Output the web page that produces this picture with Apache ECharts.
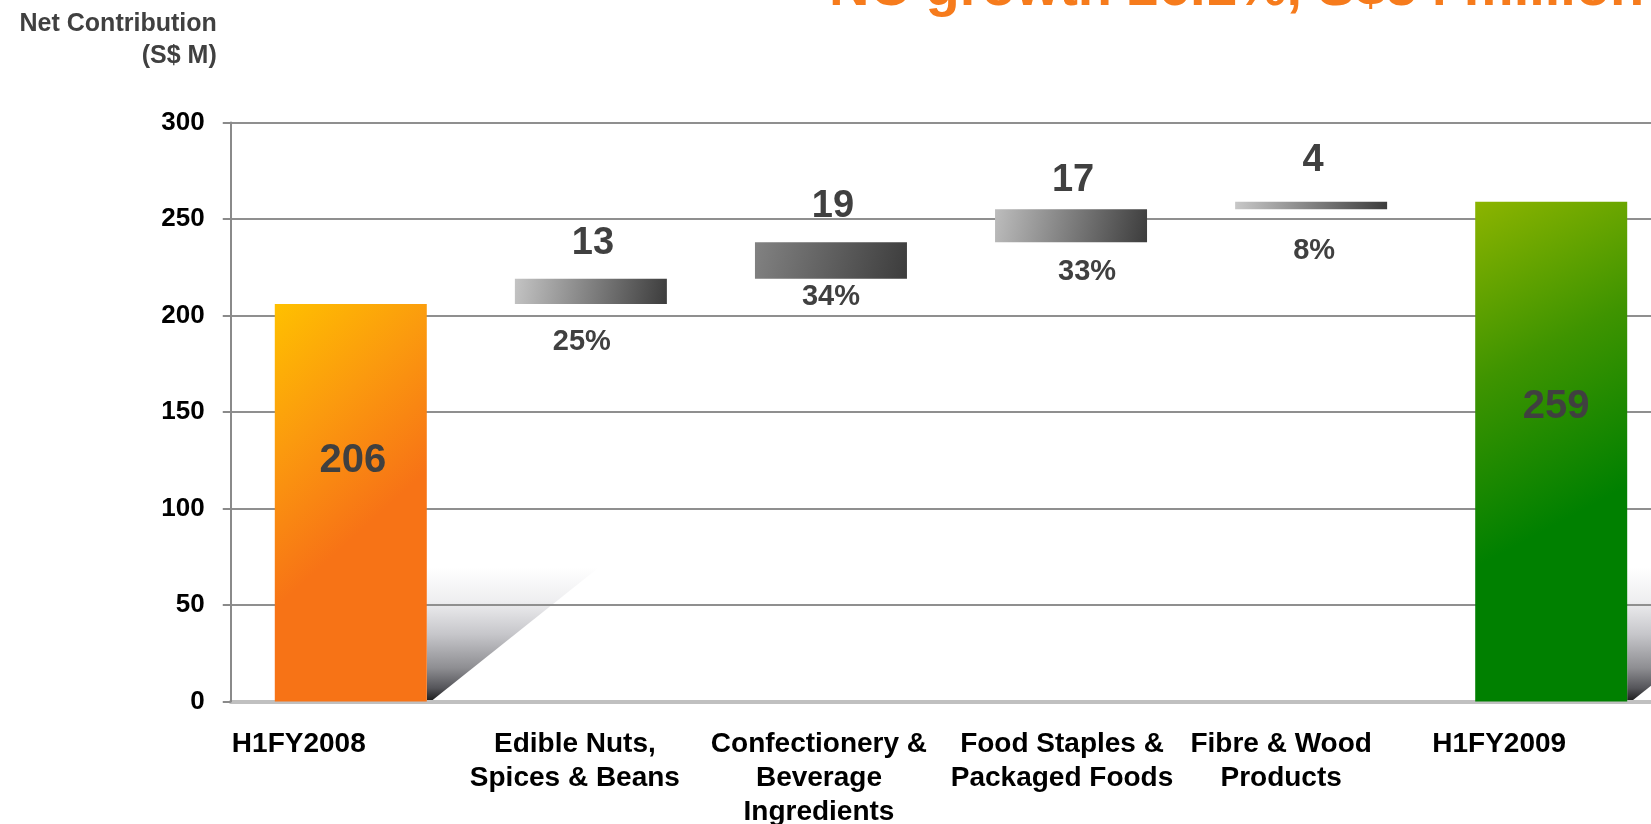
<!DOCTYPE html>
<html>
<head>
<meta charset="utf-8">
<script src="https://cdn.jsdelivr.net/npm/echarts@6/dist/echarts.min.js"></script>
<style>
  html, body { margin: 0; padding: 0; background: #ffffff; }
  #chart { width: 1651px; height: 824px; }
</style>
</head>
<body>
<div id="chart"></div>
<script>
// ---- data ----
const categories = [
  'H1FY2008',
  'Edible Nuts,\nSpices & Beans',
  'Confectionery &\nBeverage\nIngredients',
  'Food Staples &\nPackaged Foods',
  'Fibre & Wood\nProducts',
  'H1FY2009'
];
const openingNC = 206;                 // H1FY2008 net contribution
const closingNC = 259;                 // H1FY2009 net contribution
const segmentGains = [13, 19, 17, 4];  // growth contributed by each segment
const segmentShares = ['25%', '34%', '33%', '8%'];
const yTicks = [0, 50, 100, 150, 200, 250, 300];
const headline = 'NC growth 26.1%, S$54 million';
const yAxisTitle = 'Net Contribution\n(S$ M)';

// ---- label placement (pixels) ----
const gainLift = [38, 39, 32, 44];       // bar top -> centre of gain label
const shareDrop = [37, 17, 28, 40];      // bar bottom -> centre of share label
const shareShiftX = [-9, 0, 16, 3];
const totalLabelShift = [[2, -42], [5, -45]];
const categoryLabelShift = [-52, -16, -12, -9, -30, -52];

const FONT = '"Liberation Sans", Arial, Helvetica, sans-serif';
const BAR_W = 152;

const chart = echarts.init(document.getElementById('chart'));

// invisible base of each floating bar = running total before that segment
const floatBase = [0];
let running = openingNC;
segmentGains.forEach(g => { floatBase.push(running); running += g; });
floatBase.push(0);

const grad = (x2, y2, stops) => new echarts.graphic.LinearGradient(0, 0, x2, y2,
  stops.map((c, i) => ({ offset: Array.isArray(c) ? c[0] : i / (stops.length - 1), color: Array.isArray(c) ? c[1] : c })));

const openingFill = grad(1, 0.42, ['#ffc000', [0.5, '#fb9a0e'], [1, '#f77316']]);
const closingFill = grad(1, 0.57, ['#8cb400', [0.5, '#3f9400'], [1, '#008000']]);
const gainStart = ['#c4c4c4', '#828282', '#bdbdbd', '#c8c8c8'];

const visibleValues = [openingNC, ...segmentGains, closingNC];
const visibleData = visibleValues.map((v, i) => {
  if (i === 0 || i === visibleValues.length - 1) {
    const s = totalLabelShift[i === 0 ? 0 : 1];
    return {
      value: v,
      itemStyle: { color: i === 0 ? openingFill : closingFill },
      label: { show: true, position: 'inside', offset: s, fontSize: 40 }
    };
  }
  const k = i - 1;
  return {
    value: v,
    itemStyle: { color: grad(1, 1, [gainStart[k], '#3c3c3c']) },
    label: { show: true, position: 'top', distance: 0, offset: [2, -(gainLift[k] - 22)], fontSize: 38 }
  };
});

const baseData = floatBase.map((v, i) => {
  if (i === 0 || i === floatBase.length - 1) return { value: v };
  const k = i - 1;
  return {
    value: v,
    label: {
      show: true, position: 'insideTop', distance: 0,
      offset: [shareShiftX[k], shareDrop[k] - 13],
      formatter: () => segmentShares[k]
    }
  };
});

const richCats = {};
categoryLabelShift.forEach((s, i) => {
  richCats['c' + i] = {
    fontFamily: FONT, fontSize: 28, fontWeight: 'bold', color: '#000000', lineHeight: 34,
    padding: s < 0 ? [0, -2 * s, 0, 0] : [0, 0, 0, 2 * s]
  };
});

chart.setOption({
  animation: false,
  backgroundColor: '#ffffff',
  grid: {
    left: 230.75, top: 122.5, width: 1440.5, height: 579,
    containLabel: false, outerBoundsMode: 'none'
  },
  graphic: [{
    type: 'text', x: 829, y: -10, silent: true,
    style: {
      text: headline, fill: '#f67b1c',
      font: 'bold 56px ' + FONT,
      textAlign: 'left', textVerticalAlign: 'middle', verticalAlign: 'middle'
    }
  }],
  xAxis: {
    type: 'category', data: categories, offset: 2,
    axisLine: { show: true, lineStyle: { color: '#c0c0c0', width: 4 } },
    axisTick: { show: false },
    splitLine: { show: false },
    axisLabel: {
      interval: 0, margin: 24,
      fontFamily: FONT, fontSize: 28, fontWeight: 'bold', color: '#000000', lineHeight: 34,
      formatter: (v, i) => v.split('\n').map(line => '{c' + i + '|' + line + '}').join('\n'),
      rich: richCats
    }
  },
  yAxis: {
    type: 'value', z: 1,
    min: yTicks[0], max: yTicks[yTicks.length - 1], interval: yTicks[1] - yTicks[0],
    axisLine: { show: true, lineStyle: { color: '#8a8a8a', width: 2 } },
    axisTick: { show: true, length: 8, lineStyle: { color: '#8a8a8a', width: 2 } },
    splitLine: { show: true, showMinLine: false, lineStyle: { color: '#8f8f8f', width: 2 } },
    axisLabel: { margin: 26, fontFamily: FONT, fontSize: 26, fontWeight: 'bold', color: '#000000' },
    name: yAxisTitle, nameLocation: 'end', nameGap: 50,
    nameTextStyle: {
      align: 'right', verticalAlign: 'bottom', padding: [0, 14, 0, 0],
      fontFamily: FONT, fontSize: 25, fontWeight: 'bold', color: '#404040', lineHeight: 32
    }
  },
  series: [
    {
      // cast shadow behind the opening and closing bars
      type: 'custom', z: 0, silent: true,
      data: [[0, openingNC], [categories.length - 1, closingNC]],
      renderItem: (params, api) => {
        const p = api.coord([api.value(0), 0]);
        const x = p[0] + BAR_W / 2;
        const y = p[1];
        return {
          type: 'polygon',
          shape: { points: [[x, y], [x, y - 134], [x + 172, y - 134], [x + 4, y]] },
          style: {
            fill: new echarts.graphic.LinearGradient(0, 0, 0, 1, [
              { offset: 0, color: '#ffffff' },
              { offset: 0.25, color: '#eeeef0' },
              { offset: 0.5, color: '#c6c6ca' },
              { offset: 0.75, color: '#8e8e92' },
              { offset: 0.9, color: '#55555a' },
              { offset: 1, color: '#1a1a1a' }
            ])
          }
        };
      }
    },
    {
      type: 'bar', stack: 'wf', barWidth: BAR_W, silent: true,
      itemStyle: { color: 'rgba(0,0,0,0)' },
      label: { fontFamily: FONT, fontSize: 29, fontWeight: 'bold', color: '#404040' },
      data: baseData
    },
    {
      type: 'bar', stack: 'wf', barWidth: BAR_W, silent: true,
      label: { fontFamily: FONT, fontWeight: 'bold', color: '#404040' },
      data: visibleData
    }
  ]
});
</script>
</body>
</html>
